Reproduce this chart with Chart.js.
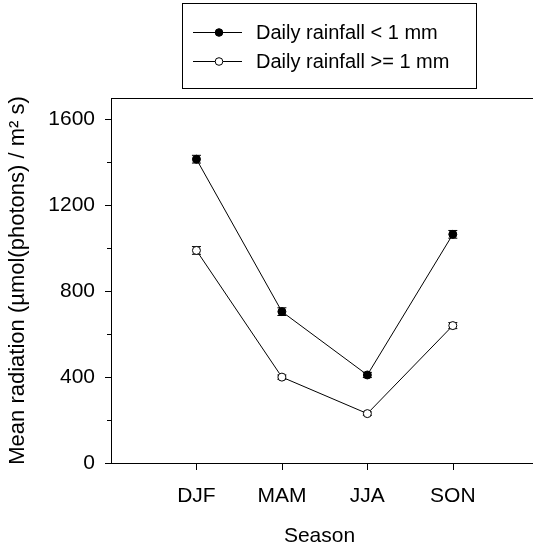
<!DOCTYPE html>
<html><head><meta charset="utf-8">
<script src="https://cdn.jsdelivr.net/npm/chart.js@4/dist/chart.umd.min.js"></script>
<style>html,body{margin:0;padding:0;background:#fff;overflow:hidden}canvas{display:block}</style>
</head><body><canvas id="c" width="533" height="551"></canvas>
<script>
// Seasonal mean radiation, split by daily rainfall
const seasons = ['DJF', 'MAM', 'JJA', 'SON'];
const dryMean = [1415, 705, 410, 1065];   // daily rainfall < 1 mm
const dryErr  = [18, 18, 12, 18];
const wetMean = [990, 400, 230, 640];     // daily rainfall >= 1 mm
const wetErr  = [18, 10, 8, 14];
const yMajorTicks = [0, 400, 800, 1200, 1600];
const yMinorTicks = [200, 600, 1000, 1400];
const seriesNames = ['Daily rainfall < 1 mm', 'Daily rainfall >= 1 mm'];

const FONT = '"Liberation Sans", Arial, sans-serif';
const errs = [dryErr, wetErr];

const toPoints = vals => vals.map((v, i) => ({ x: i + 1, y: v }));

// vertical error bars with caps, drawn under the markers
const errorBars = {
  id: 'errorBars',
  beforeDatasetsDraw(chart) {
    const { ctx, scales: { x, y } } = chart;
    ctx.save();
    ctx.strokeStyle = '#000';
    ctx.lineWidth = 1;
    chart.data.datasets.forEach((ds, di) => {
      ds.data.forEach((p, i) => {
        const e = errs[di][i];
        const px = x.getPixelForValue(p.x);
        const y1 = y.getPixelForValue(p.y + e);
        const y2 = y.getPixelForValue(p.y - e);
        ctx.beginPath();
        ctx.moveTo(px, y1); ctx.lineTo(px, y2);
        ctx.moveTo(px - 4.5, y1); ctx.lineTo(px + 4.5, y1);
        ctx.moveTo(px - 4.5, y2); ctx.lineTo(px + 4.5, y2);
        ctx.stroke();
      });
    });
    ctx.restore();
  }
};

// axis frame: left, bottom and top lines (running to the canvas edge) plus outward tick marks
const frame = {
  id: 'frame',
  afterDraw(chart) {
    const { ctx, chartArea: a, scales: { x, y } } = chart;
    const rightEdge = chart.width;
    ctx.save();
    ctx.strokeStyle = '#000';
    ctx.lineWidth = 1;
    ctx.beginPath();
    ctx.moveTo(a.left + 0.5, a.top + 0.5); ctx.lineTo(rightEdge, a.top + 0.5);
    ctx.moveTo(a.left + 0.5, a.top); ctx.lineTo(a.left + 0.5, a.bottom + 0.5);
    ctx.moveTo(a.left, a.bottom + 0.5); ctx.lineTo(rightEdge, a.bottom + 0.5);
    yMajorTicks.forEach(v => {
      const py = Math.round(y.getPixelForValue(v)) + 0.5;
      ctx.moveTo(a.left - 6, py); ctx.lineTo(a.left, py);
    });
    yMinorTicks.forEach(v => {
      const py = Math.round(y.getPixelForValue(v)) + 0.5;
      ctx.moveTo(a.left - 4, py); ctx.lineTo(a.left, py);
    });
    seasons.forEach((s, i) => {
      const px = Math.round(x.getPixelForValue(i + 1)) + 0.5;
      ctx.moveTo(px, a.bottom); ctx.lineTo(px, a.bottom + 7);
    });
    ctx.stroke();
    ctx.restore();
  }
};

// boxed legend above the plot
const boxLegend = {
  id: 'boxLegend',
  afterDraw(chart) {
    const { ctx } = chart;
    ctx.save();
    ctx.strokeStyle = '#000';
    ctx.lineWidth = 1;
    ctx.strokeRect(182.5, 3.5, 294, 85);
    const rows = [32, 61];
    chart.data.datasets.forEach((ds, i) => {
      const ry = rows[i] + 0.5;
      ctx.beginPath();
      ctx.moveTo(193, ry); ctx.lineTo(242, ry);
      ctx.stroke();
      ctx.beginPath();
      ctx.arc(219, ry, 3.8, 0, Math.PI * 2);
      ctx.fillStyle = ds.pointBackgroundColor;
      ctx.fill();
      ctx.stroke();
      ctx.fillStyle = '#000';
      ctx.font = '20px ' + FONT;
      ctx.textAlign = 'left';
      ctx.textBaseline = 'middle';
      ctx.fillText(seriesNames[i], 256, rows[i] + 1);
    });
    ctx.restore();
  }
};

new Chart(document.getElementById('c'), {
  type: 'line',
  data: {
    datasets: [
      { label: seriesNames[0], data: toPoints(dryMean), borderColor: '#000', borderWidth: 1,
        pointBackgroundColor: '#000', pointBorderColor: '#000', pointRadius: 4, pointBorderWidth: 1, tension: 0 },
      { label: seriesNames[1], data: toPoints(wetMean), borderColor: '#000', borderWidth: 1,
        pointBackgroundColor: '#fff', pointBorderColor: '#000', pointRadius: 4, pointBorderWidth: 1, tension: 0 }
    ]
  },
  options: {
    responsive: false,
    animation: false,
    devicePixelRatio: 1,
    layout: { padding: { top: 98, left: 0, right: 0, bottom: 0 } },
    plugins: { legend: { display: false }, tooltip: { enabled: false } },
    scales: {
      x: {
        type: 'linear', min: 0, max: 4.88,
        afterBuildTicks: s => { s.ticks = seasons.map((_, i) => ({ value: i + 1 })); },
        afterFit: s => { s.height = 88; },
        ticks: { color: '#000', font: { size: 21, family: FONT }, padding: 21,
                 callback: v => seasons[v - 1] },
        grid: { display: false, drawTicks: false },
        border: { display: false },
        title: { display: true, text: 'Season', color: '#000', font: { size: 21, family: FONT },
                 padding: { top: 0, bottom: 2 } }
      },
      y: {
        min: 0, max: 1700,
        afterBuildTicks: s => { s.ticks = yMajorTicks.map(v => ({ value: v })); },
        afterFit: s => { s.width = 111; },
        ticks: { color: '#000', font: { size: 21, family: FONT }, padding: 16,
                 callback: v => String(v) },
        grid: { display: false, drawTicks: false },
        border: { display: false },
        title: { display: true, text: 'Mean radiation (µmol(photons) / m² s)', color: '#000',
                 font: { size: 22, family: FONT }, padding: { top: 5, bottom: 0 } }
      }
    }
  },
  plugins: [errorBars, frame, boxLegend]
});
</script>
</body></html>
